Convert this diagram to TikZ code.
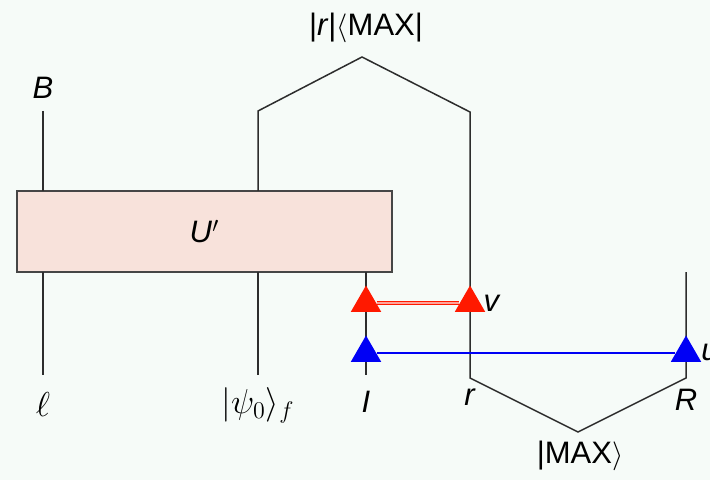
\documentclass[tikz,border=0pt]{standalone}
\usepackage{fontspec}
\setmainfont{Liberation Sans}
\usetikzlibrary{shapes.geometric}
\definecolor{bg}{RGB}{246,251,248}
\definecolor{boxfill}{RGB}{248,226,219}
\definecolor{boxedge}{RGB}{70,70,70}
\definecolor{wire}{RGB}{45,45,45}
\definecolor{tred}{RGB}{255,25,0}
\definecolor{tblue}{RGB}{0,0,245}
\begin{document}
\begin{tikzpicture}[x=0.5pt,y=-0.5pt,
  wire/.style={draw=wire, line width=0.75pt},
  lbl/.style={font=\fontsize{15.5}{18}\selectfont, inner sep=0},
  mlbl/.style={font=\fontsize{18}{20}\selectfont, inner sep=0},
  tri/.style={regular polygon, regular polygon sides=3, minimum size=17.5pt, inner sep=0}]
\fill[bg] (0,0) rectangle (710,480);
\useasboundingbox (0,0) rectangle (710,480);
% box
\node[draw=boxedge, fill=boxfill, minimum width=187.5pt, minimum height=40.5pt, inner sep=0, line width=0.75pt, lbl] (U) at (204.5,231.5) {\textit{U}$'$};
% wire end coordinates
\coordinate (Btop) at (43,111);
\coordinate (Bbot) at (43,191);
\coordinate (Ltop) at (43,272);
\coordinate (Lbot) at (43,375);
\coordinate (Ptop) at (258,272);
\coordinate (Pbot) at (258,375);
\coordinate (Itop) at (366,272);
\coordinate (Ibot) at (366,375);
\coordinate (A0) at (258,191);
\coordinate (A1) at (258,111);
\coordinate (A2) at (362,57);
\coordinate (A3) at (470,112);
\coordinate (A4) at (470,378);
\coordinate (A5) at (578,432);
\coordinate (A6) at (686,378);
\coordinate (A7) at (686,272);
% wires
\draw[wire] (Btop) -- (Bbot);
\draw[wire] (Ltop) -- (Lbot);
\draw[wire] (Ptop) -- (Pbot);
\draw[wire] (Itop) -- (Ibot);
\draw[wire] (A0) -- (A1) -- (A2) -- (A3) -- (A4) -- (A5) -- (A6) -- (A7);
% triangles
\node[tri, fill=tred] (r1) at (366,303) {};
\node[tri, fill=tred] (r2) at (470,303) {};
\node[tri, fill=tblue] (b1) at (366,353) {};
\node[tri, fill=tblue] (b2) at (686,353) {};
\draw[draw=tred, line width=0.75pt, double=tred!40!white, double distance=0.9pt] (r1) -- (r2);
\draw[draw=tblue, line width=1.3pt] (b1) -- (b2);
% labels
\node[lbl] (lB) at (43,88) {\textit{B}};
\node[mlbl] (lL) at (43,404) {$\ell$};
\node[mlbl] (lP) at (258,405) {$|\psi_0\rangle_{f}$};
\node[lbl] (lI) at (366,402) {\textit{I}};
\node[lbl] (lr) at (470,397) {\textit{r}};
\node[lbl] (lR) at (686,400) {\textit{R}};
\node[lbl] (lv) at (492,303) {\textit{v}};
\node[lbl, anchor=west] (lu) at (701,352) {\textit{u}};
\node[lbl] (ltop) at (366,28) {|\textit{r}|$\langle$MAX|};
\node[lbl] (lbot) at (580,456) {|MAX$\rangle$};
\end{tikzpicture}
\end{document}
